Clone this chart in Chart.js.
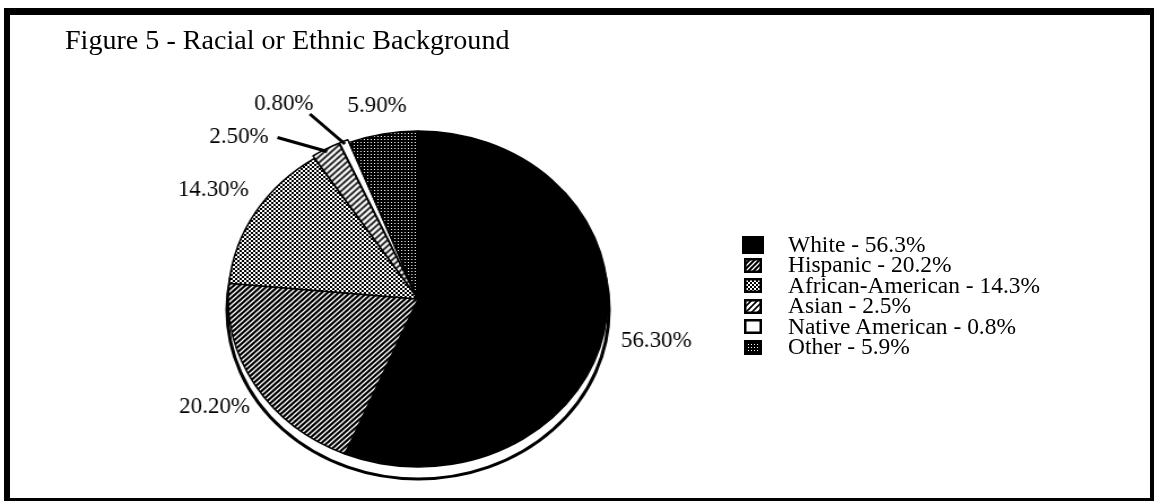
<!DOCTYPE html>
<html lang="en">
<head>
<meta charset="UTF-8">
<title>Figure 5 - Racial or Ethnic Background</title>
<script src="https://cdn.jsdelivr.net/npm/chart.js"></script>
<style>
  body {
    margin: 0;
    background: #fff;
    width: 1157px;
    height: 504px;
    overflow: hidden;
    position: relative;
    font-family: "Liberation Serif", "Times New Roman", serif;
    color: #000;
  }

  .frame {
    position: absolute;
    left: 4px;
    top: 8px;
    width: 1150px;
    height: 493px;
    box-sizing: border-box;
    border-style: solid;
    border-color: #000;
    border-width: 7px 4px 3px 6px;
  }

  /* the scanned pie is wider than tall, so the chart canvas is stretched sideways */
  .stage {
    position: absolute;
    left: 0;
    top: 0;
    width: 1024px;
    height: 504px;
    transform: scaleX(1.1299);
    transform-origin: 0 0;
  }

  #chart { position: absolute; left: 0; top: 0; }

  .title {
    position: absolute;
    left: 65px;
    top: 25px;
    font-size: 27px;
    line-height: 30px;
    white-space: nowrap;
  }

  .title span, .legend span {
    display: inline-block;
    transform-origin: 0 50%;
  }
  .title span { transform: scaleX(1.04); }
  .legend span { transform: scaleX(1.02); }

  .legend {
    position: absolute;
    left: 742px;
    top: 235px;
    font-size: 23px;
  }

  .legend .row {
    height: 20.4px;
    line-height: 20.4px;
    display: flex;
    align-items: center;
    white-space: nowrap;
  }

  .legend canvas { display: block; }
</style>
</head>
<body>
  <div class="frame"></div>
  <div class="stage">
    <canvas id="chart" width="1024" height="504"></canvas>
  </div>
  <div class="title"><span>Figure 5 - Racial or Ethnic Background</span></div>
  <div class="legend" id="legend"></div>

<script>
  var categories = ["White", "Hispanic", "African-American", "Asian", "Native American", "Other"];
  var shares = [56.3, 20.2, 14.3, 2.5, 0.8, 5.9];
  var sliceLabels = ["56.30%", "20.20%", "14.30%", "2.50%", "0.80%", "5.90%"];
  var legendLabels = ["White - 56.3%", "Hispanic - 20.2%", "African-American - 14.3%",
                      "Asian - 2.5%", "Native American - 0.8%", "Other - 5.9%"];
  var fills = ["solid", "hatch", "checker", "stripes", "blank", "dots"];

  var STRETCH = 1.1299;

  // small tiles turned into canvas patterns
  function makePattern(kind) {
    var c = document.createElement("canvas");
    var g = c.getContext("2d");
    var s;
    if (kind == "solid") {
      c.width = c.height = 4;
      g.fillStyle = "#000";
      g.fillRect(0, 0, 4, 4);
    } else if (kind == "hatch") {
      s = 5;
      c.width = c.height = s;
      g.fillStyle = "#000";
      g.fillRect(0, 0, s, s);
      g.strokeStyle = "#fff";
      g.lineWidth = 1.3;
      g.beginPath();
      g.moveTo(0, s); g.lineTo(s, 0);
      g.moveTo(-1, 1); g.lineTo(1, -1);
      g.moveTo(s - 1, s + 1); g.lineTo(s + 1, s - 1);
      g.stroke();
    } else if (kind == "checker") {
      c.width = c.height = 4;
      g.fillStyle = "#000";
      g.fillRect(0, 0, 4, 4);
      g.fillStyle = "#fff";
      g.fillRect(0, 0, 2, 2);
      g.fillRect(2, 2, 2, 2);
    } else if (kind == "stripes") {
      s = 6;
      c.width = c.height = s;
      g.fillStyle = "#000";
      g.fillRect(0, 0, s, s);
      g.strokeStyle = "#fff";
      g.lineWidth = 2.6;
      g.beginPath();
      g.moveTo(0, s); g.lineTo(s, 0);
      g.moveTo(-2, 2); g.lineTo(2, -2);
      g.moveTo(s - 2, s + 2); g.lineTo(s + 2, s - 2);
      g.stroke();
    } else if (kind == "blank") {
      c.width = c.height = 4;
      g.fillStyle = "#fff";
      g.fillRect(0, 0, 4, 4);
    } else {
      c.width = c.height = 3;
      g.fillStyle = "#000";
      g.fillRect(0, 0, 3, 3);
      g.fillStyle = "#fff";
      g.fillRect(1, 1, 1, 1);
    }
    return g.createPattern(c, "repeat");
  }

  var patterns = fills.map(makePattern);

  // legend
  var legendBox = document.getElementById("legend");
  legendLabels.forEach(function (txt, i) {
    var row = document.createElement("div");
    row.className = "row";
    var sw = document.createElement("canvas");
    var w = i == 0 ? 22 : 18, h = i == 0 ? 18 : 15;
    sw.width = w; sw.height = h;
    sw.style.marginLeft = (i == 0 ? 0 : 2) + "px";
    sw.style.marginRight = (i == 0 ? 24 : 26) + "px";
    var g = sw.getContext("2d");
    g.fillStyle = patterns[i];
    g.fillRect(0, 0, w, h);
    g.strokeStyle = "#000";
    g.lineWidth = 2.5;
    g.strokeRect(1.25, 1.25, w - 2.5, h - 2.5);
    row.appendChild(sw);
    var span = document.createElement("span");
    span.textContent = txt;
    row.appendChild(span);
    legendBox.appendChild(row);
  });

  var labelRadius = [1.28, 1.25, 1.26, 0, 0, 1.17];
  // slices whose label sits at the end of a leader line: [end dx, dy, text dx, dy]
  var leaders = { 3: [-44, -14, -34, -1], 4: [-31, -30, -23, -10] };

  function putText(ctx, txt, x, y) {
    // undo the sideways stretch of the canvas for the lettering
    ctx.save();
    ctx.translate(x, y);
    ctx.scale(1 / STRETCH, 1);
    ctx.fillText(txt, 0, 0);
    ctx.restore();
  }

  var pieExtras = {
    id: "pieExtras",
    beforeDatasetsDraw: function (chart) {
      // the side of the tilted disc, peeking out underneath
      var a = chart.getDatasetMeta(0).data[0];
      var ctx = chart.ctx;
      ctx.save();
      ctx.beginPath();
      ctx.arc(a.x, a.y + 11, a.outerRadius + 1, 0, Math.PI * 2);
      ctx.fillStyle = "#fff";
      ctx.fill();
      ctx.lineWidth = 3;
      ctx.strokeStyle = "#000";
      ctx.stroke();
      ctx.restore();
    },
    afterDatasetsDraw: function (chart) {
      var ctx = chart.ctx;
      var arcs = chart.getDatasetMeta(0).data;
      ctx.save();
      ctx.fillStyle = "#000";
      ctx.strokeStyle = "#000";
      ctx.font = "23px 'Liberation Serif', 'Times New Roman', serif";
      ctx.textAlign = "center";
      ctx.textBaseline = "middle";
      arcs.forEach(function (a, i) {
        var mid = (a.startAngle + a.endAngle) / 2;
        var cx = Math.cos(mid), cy = Math.sin(mid);
        var r = a.outerRadius;
        var ld = leaders[i];
        if (ld) {
          var sx = a.x + cx * r, sy = a.y + cy * r;
          ctx.lineWidth = 3;
          ctx.beginPath();
          ctx.moveTo(sx, sy);
          ctx.lineTo(sx + ld[0], sy + ld[1]);
          ctx.stroke();
          putText(ctx, sliceLabels[i], sx + ld[0] + ld[2], sy + ld[1] + ld[3]);
        } else {
          putText(ctx, sliceLabels[i], a.x + cx * r * labelRadius[i], a.y + cy * r * labelRadius[i]);
        }
      });
      ctx.restore();
    }
  };

  var chart = new Chart(document.getElementById("chart"), {
    type: "pie",
    data: {
      labels: categories,
      datasets: [{
        data: shares,
        backgroundColor: patterns,
        borderColor: "#000",
        borderWidth: 1.5,
        offset: [0, 0, 0, 6, 6, 0],
        radius: 168
      }]
    },
    options: {
      responsive: false,
      animation: false,
      layout: { padding: { left: 0, right: 284, top: 94, bottom: 0 } },
      plugins: {
        legend: { display: false },
        tooltip: { enabled: false }
      }
    },
    plugins: [pieExtras]
  });
</script>
</body>
</html>
